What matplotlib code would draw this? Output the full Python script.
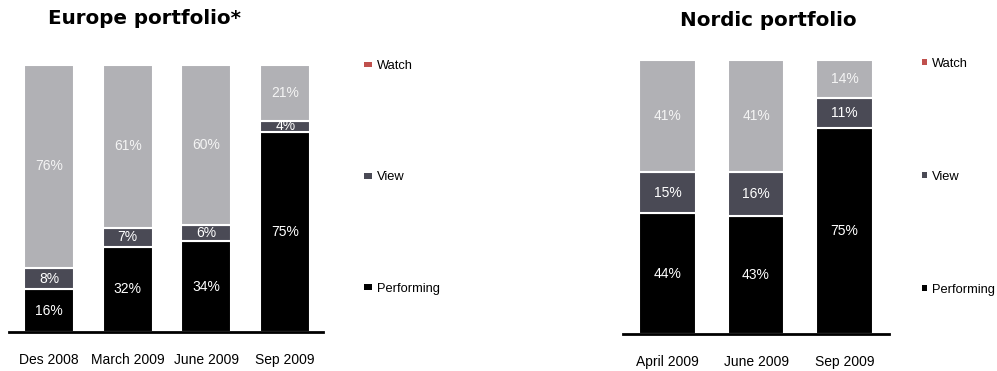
import numpy as np
import matplotlib
matplotlib.use("Agg")
import matplotlib.pyplot as plt
from matplotlib.patches import Patch

plt.rcParams['font.family'] = ['Liberation Sans', 'DejaVu Sans']

# Europe portfolio shares (%)
europe_periods = ["Des 2008", "March 2009", "June 2009", "Sep 2009"]
europe_performing = [16, 32, 34, 75]
europe_view = [8, 7, 6, 4]
europe_watch = [76, 61, 60, 21]

# Nordic portfolio shares (%)
nordic_periods = ["April 2009", "June 2009", "Sep 2009"]
nordic_performing = [44, 43, 75]
nordic_view = [15, 16, 11]
nordic_watch = [41, 41, 14]

series_names = ["Performing", "View", "Watch"]
bar_colors = ["#000000", "#4a4a55", "#b1b1b5"]
text_colors = ["#ffffff", "#ffffff", "#f4f4f4"]
legend_colors = ["#000000", "#4a4a55", "#c0504d"]

W, H = 997, 371
fig = plt.figure(figsize=(W / 100, H / 100), dpi=100)


def stacked(ax, periods, stacks, width, xlim):
    x = np.arange(len(periods))
    bottom = np.zeros(len(periods))
    for vals, col, tcol in zip(stacks, bar_colors, text_colors):
        vals = np.array(vals, dtype=float)
        ax.bar(x, vals, width, bottom=bottom, color=col, edgecolor="white",
               linewidth=1.5)
        for xi, b, v in zip(x, bottom, vals):
            ax.text(xi, b + v / 2, f"{int(v)}%", ha="center", va="center",
                    color=tcol, fontsize=10)
        bottom += vals
    ax.set_xlim(*xlim)
    ax.set_ylim(0, 100)
    ax.set_xticks(x)
    ax.set_xticklabels(periods, fontsize=10)
    ax.tick_params(axis="x", length=0, pad=15)
    ax.set_yticks([])
    for s in ["top", "left", "right"]:
        ax.spines[s].set_visible(False)
    ax.spines["bottom"].set_linewidth(2)
    ax.patch.set_alpha(0)


def legend(ax, x, y, hl, hh, spacing):
    handles = [Patch(facecolor=c, edgecolor="none", label=n)
               for n, c in zip(series_names[::-1], legend_colors[::-1])]
    ax.legend(handles=handles, loc="upper left",
              bbox_to_anchor=(x / W, 1 - y / H),
              bbox_transform=fig.transFigure, frameon=False, fontsize=9.3,
              borderpad=0, borderaxespad=0, labelspacing=spacing,
              handlelength=hl, handleheight=hh, handletextpad=0.4)


ax1 = fig.add_axes([9 / W, 39 / H, 314 / W, 267 / H])
stacked(ax1, europe_periods, [europe_performing, europe_view, europe_watch],
        0.635, (-0.508, 3.48))
legend(ax1, 364, 60, 0.6, 0.3, 7.7)

ax2 = fig.add_axes([623 / W, 37 / H, 266 / W, 274 / H])
stacked(ax2, nordic_periods, [nordic_performing, nordic_view, nordic_watch],
        0.644, (-0.503, 2.503))
legend(ax2, 922, 58, 0.35, 0.35, 7.8)

fig.text(144 / W, 1 - 19 / H, "Europe portfolio*", ha="center", va="center",
         fontsize=14.3, fontweight="bold", family="DejaVu Sans")
fig.text(768 / W, 1 - 20 / H, "Nordic portfolio", ha="center", va="center",
         fontsize=14.3, fontweight="bold", family="DejaVu Sans")

fig.savefig("out.png", dpi=100)
